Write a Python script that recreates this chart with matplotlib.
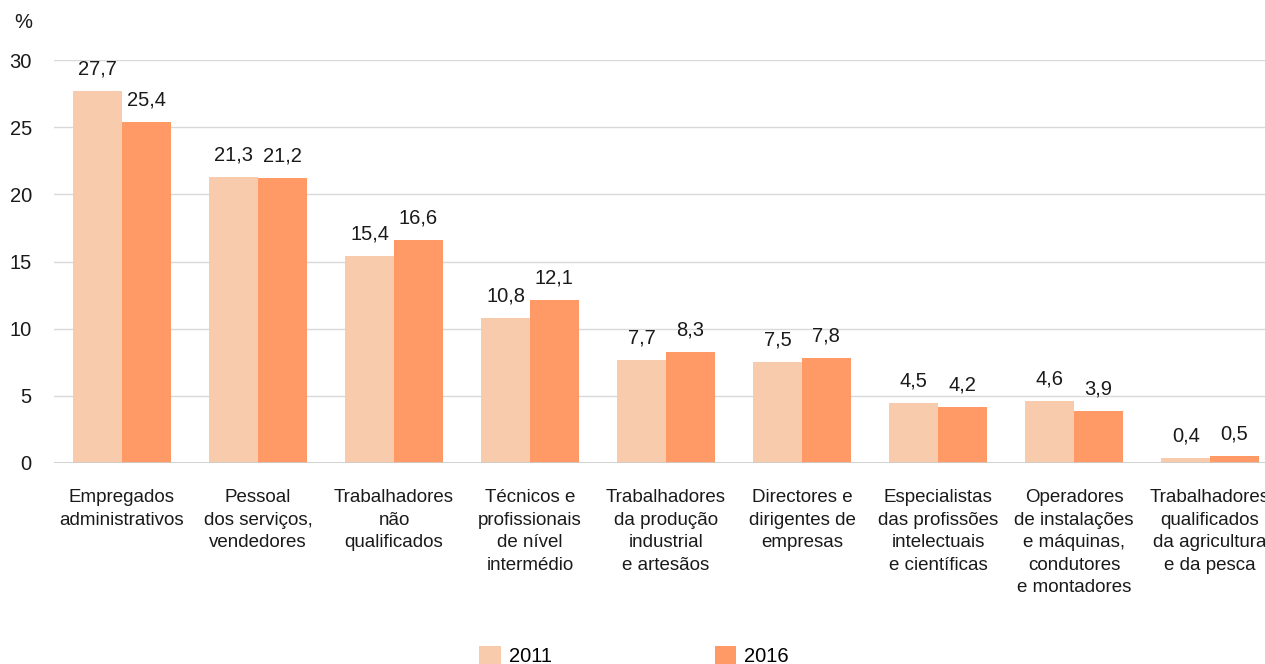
import matplotlib
matplotlib.use("Agg")
import matplotlib.pyplot as plt
import numpy as np

categories = [
    "Empregados\nadministrativos",
    "Pessoal\ndos serviços,\nvendedores",
    "Trabalhadores\nnão\nqualificados",
    "Técnicos e\nprofissionais\nde nível\nintermédio",
    "Trabalhadores\nda produção\nindustrial\ne artesãos",
    "Directores e\ndirigentes de\nempresas",
    "Especialistas\ndas profissões\nintelectuais\ne científicas",
    "Operadores\nde instalações\ne máquinas,\ncondutores\ne montadores",
    "Trabalhadores\nqualificados\nda agricultura\ne da pesca",
]
values_2011 = [27.7, 21.3, 15.4, 10.8, 7.7, 7.5, 4.5, 4.6, 0.4]
values_2016 = [25.4, 21.2, 16.6, 12.1, 8.3, 7.8, 4.2, 3.9, 0.5]
series_labels = ["2011", "2016"]
yticks = [0, 5, 10, 15, 20, 25, 30]

plt.rcParams["font.family"] = ["Liberation Sans", "DejaVu Sans"]

W, H = 1265, 664
fig = plt.figure(figsize=(W / 100, H / 100), dpi=100)
left, right = 54, 54 + 9 * 136
top, bottom = 60, 463
ax = fig.add_axes([left / W, 1 - bottom / H, (right - left) / W, (bottom - top) / H])

x = np.arange(len(categories))
bw = 0.357
c1, c2 = "#F8CBAD", "#FF9A66"
b1 = ax.bar(x - bw / 2, values_2011, bw, color=c1, label=series_labels[0], zorder=2)
b2 = ax.bar(x + bw / 2, values_2016, bw, color=c2, label=series_labels[1], zorder=2)

for bars, vals in ((b1, values_2011), (b2, values_2016)):
    for b, v in zip(bars, vals):
        ax.annotate(f"{v:.1f}".replace(".", ","), (b.get_x() + b.get_width() / 2, v),
                    xytext=(0, 9), textcoords="offset points", ha="center", va="bottom",
                    fontsize=14.5, color="#1a1a1a")

ax.set_xlim(-0.5, len(categories) - 0.5)
ax.set_ylim(0, 30)
ax.set_yticks(yticks)
ax.set_yticklabels([str(t) for t in yticks], fontsize=14.5, color="#1a1a1a")
ax.set_xticks(x)
ax.set_xticklabels(categories, fontsize=13.5, color="#1a1a1a", linespacing=1.42, va="top")
ax.tick_params(axis="both", length=0)
ax.tick_params(axis="y", pad=16)
ax.tick_params(axis="x", pad=19)
ax.grid(axis="y", color="#d9d9d9", linewidth=1, zorder=0)
for s in ax.spines.values():
    s.set_visible(False)
ax.axhline(0, color="#cccccc", linewidth=1.2, zorder=3)

fig.text(14 / W, 1 - 22 / H, "%", fontsize=14.5, va="center", ha="left", color="#1a1a1a")

fig.legend(handles=[b1, b2], labels=series_labels, loc="center", bbox_to_anchor=(634 / W, 1 - 656 / H),
           ncol=2, frameon=False, fontsize=14.5, handlelength=1.05, handleheight=1.05,
           columnspacing=8.1, handletextpad=0.4, borderpad=0)

fig.savefig("out.png", dpi=100)
